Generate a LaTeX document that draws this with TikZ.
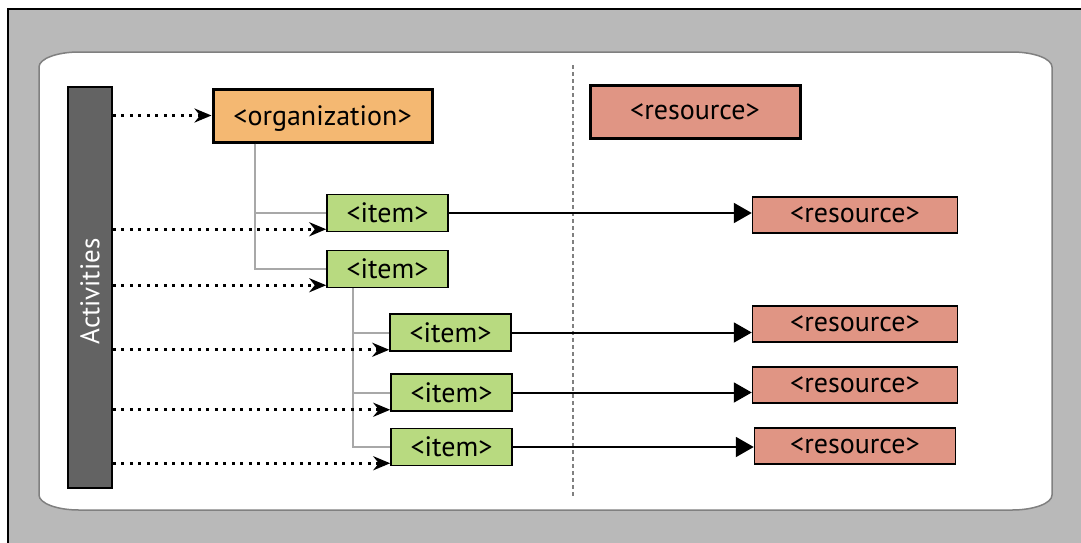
\documentclass[tikz,border=0pt]{standalone}
\usepackage{fontspec}
\setmainfont{PT Sans}
\usetikzlibrary{arrows.meta}
\definecolor{outergray}{HTML}{B9B9B9}
\definecolor{bargray}{HTML}{636363}
\definecolor{orgorange}{HTML}{F4B872}
\definecolor{ressalmon}{HTML}{E09584}
\definecolor{itemgreen}{HTML}{B8DA80}
\definecolor{treegray}{HTML}{A8A8A8}
\begin{document}
\begin{tikzpicture}[x=1pt,y=-1pt,
  box/.style = {draw, line width=1.5pt, inner sep=0pt, text depth=0pt, font=\fontsize{28}{32}\selectfont},
  item/.style = {box, fill=itemgreen, minimum width=121pt, minimum height=37pt},
  res/.style = {box, fill=ressalmon, minimum width=205pt, minimum height=36pt},
  head/.style = {box, line width=3pt, minimum height=53pt},
  tree/.style = {draw=treegray, line width=2pt},
  dots/.style = {line width=3pt, dash pattern=on 3pt off 5.5pt, -{Stealth[length=17pt,width=14pt]}},
  link/.style = {line width=2pt, -{Triangle[length=18pt,width=20pt]}}]
\useasboundingbox (0,0) rectangle (1081,542);
\fill[white] (0,0) rectangle (1081,542);
\draw[fill=outergray, line width=2pt] (8,9) rectangle (1100,560);
% white panel
\draw[fill=white, draw=gray, line width=1.5pt] (39,67) arc[start angle=180, end angle=270, x radius=40, y radius=15]
  -- (1012,52) arc[start angle=270, end angle=360, x radius=40, y radius=15]
  -- (1052,495) arc[start angle=0, end angle=90, x radius=40, y radius=15]
  -- (79,510) arc[start angle=90, end angle=180, x radius=40, y radius=15] -- cycle;
\draw[gray, line width=1.5pt, dash pattern=on 4pt off 3pt] (573,65) -- (573,498);

\node[box, fill=bargray, minimum width=44pt, minimum height=401pt] (act) at (90,287.5) {};
\node[text=white, rotate=90, font=\fontsize{27}{30}\selectfont] at ([yshift=-4pt]act.center) {Activities};
\node[head, fill=orgorange, minimum width=219pt] (org) at (322.5,115.5) {<organization>};
\node[head, fill=ressalmon, minimum width=210pt] (res) at (695,111.5) {<resource>};

\node[item] (i1) at (387.5,213) {<item>};
\node[item] (i2) at (387.5,269) {<item>};
\node[item] (i3) at (450.5,332.5) {<item>};
\node[item] (i4) at (451.5,392.5) {<item>};
\node[item] (i5) at (451.5,447) {<item>};

\node[res] (r1) at (855,215) {<resource>};
\node[res] (r2) at (855,324) {<resource>};
\node[res] (r3) at (855,385) {<resource>};
\node[res, minimum width=201pt] (r4) at (855,446) {<resource>};

% tree lines
\draw[tree] ([xshift=43pt]org.south west) |- (i1.west);
\draw[tree] ([xshift=43pt]org.south west) |- (i2.west);
\draw[tree] ([xshift=27pt]i2.south west) |- (i3.west);
\draw[tree] ([xshift=27pt]i2.south west) |- (i4.west);
\draw[tree] ([xshift=27pt]i2.south west) |- (i5.west);

% activities
\coordinate (d1) at ([yshift=3pt]i1.south west);
\coordinate (d2) at ([yshift=3pt]i2.south west);
\coordinate (d3) at ([yshift=2pt]i3.south west);
\coordinate (d4) at ([yshift=2pt]i4.south west);
\coordinate (d5) at ([yshift=3pt]i5.south west);
\draw[dots] (act.east |- org.west) -- (org.west);
\foreach \n in {1,...,5}
  \draw[dots] (act.east |- d\n) -- (d\n);

% links to resources
\draw[link] (i1.east) -- (i1.east -| r1.west);
\draw[link] (i3.east) -- (i3.east -| r2.west);
\draw[link] (i4.east) -- (i4.east -| r3.west);
\draw[link] (i5.east) -- (i5.east -| r4.west);
\end{tikzpicture}
\end{document}
